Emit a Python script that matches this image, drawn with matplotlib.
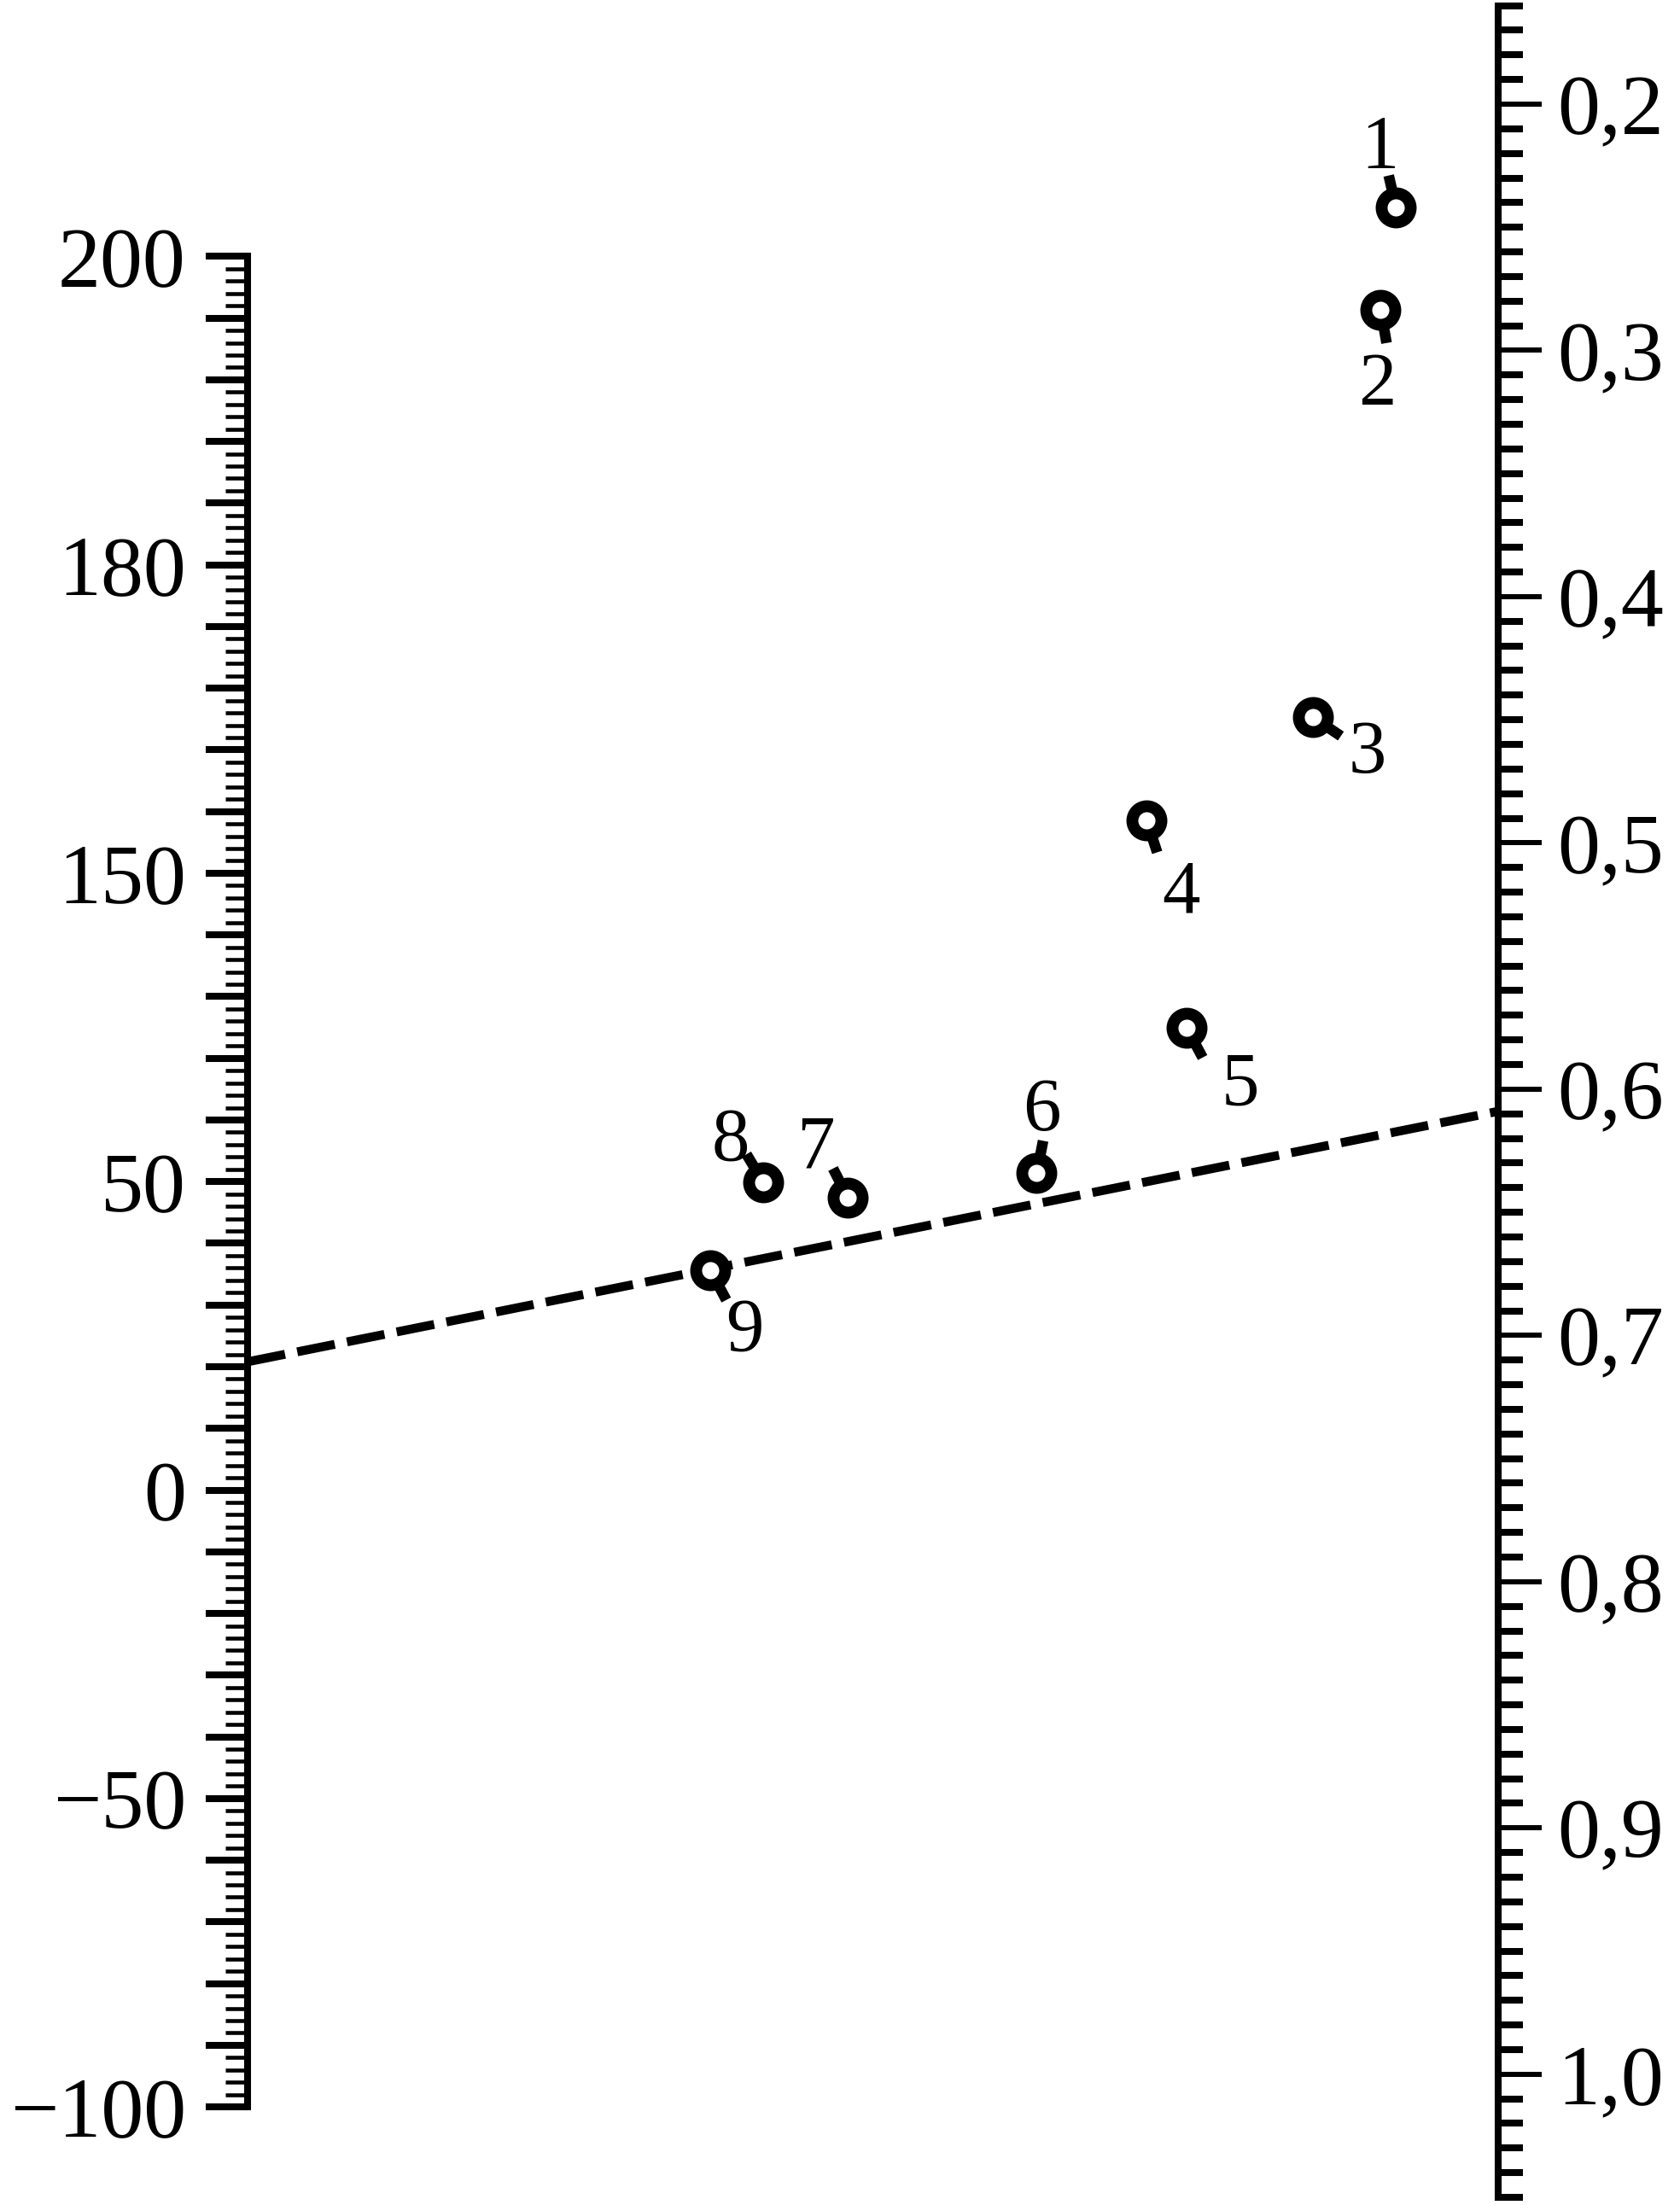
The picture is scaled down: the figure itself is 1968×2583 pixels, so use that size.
import numpy as np
import matplotlib.pyplot as plt
from matplotlib.path import Path
from matplotlib.ticker import FixedLocator, MultipleLocator, FuncFormatter

plt.rcParams['font.family'] = ['Liberation Serif', 'DejaVu Serif']

# left scale: labelled values sit at equal steps along the axis
left_values = [-100, -50, 0, 50, 150, 180, 200]

# numbered points (x is a free horizontal position, y is on the right scale)
point_ids = ['1', '2', '3', '4', '5', '6', '7', '8', '9']
point_x = [0.918, 0.906, 0.852, 0.719, 0.751, 0.631, 0.480, 0.412, 0.370]
point_y = [0.242, 0.2835, 0.449, 0.491, 0.575, 0.634, 0.644, 0.638, 0.6735]

# dashed key line: value on the left scale -> value on the right scale
line_left = 20.8
line_right = 0.609

# label placement (offset points) and tail direction (deg) for every point
label_dx = [-13, -3, 46, 29, 45, 4, -27, -27, 29]
label_dy = [56, -58, -24, -55, -42, 58, 48, 42, -45]
tail_angle = [103, -80, -34, -72, -62, 79, 117, 121, -62]
tail_len = 28  # points, from the centre of the ring


def left_label(t, pos):
    k = int(round(t))
    if abs(t - k) < 1e-6 and 0 <= k < len(left_values):
        return str(left_values[k]).replace('-', '\u2212')
    return ''


fig = plt.figure(figsize=(19.68, 25.83), dpi=100)
ax = fig.add_axes([290 / 1968, 9 / 2583, 1465 / 1968, 2567.4 / 2583])
ax.set_ylim(-0.293, 6.813)
ax.set_xlim(0, 1)
for s in ['top', 'right', 'bottom']:
    ax.spines[s].set_visible(False)
ax.spines['left'].set_linewidth(5.8)
ax.spines['left'].set_bounds(0, len(left_values) - 1)
ax.set_xticks([])
ax.yaxis.set_major_locator(FixedLocator(np.arange(0, 6.001, 0.2)))
ax.yaxis.set_minor_locator(FixedLocator(np.arange(0, 6.001, 0.04)))
ax.yaxis.set_major_formatter(FuncFormatter(left_label))
ax.tick_params(axis='y', which='major', direction='out', length=35, width=5.8,
               pad=17, labelsize=72)
ax.tick_params(axis='y', which='minor', direction='out', length=18.5, width=3.3)

axR = ax.twinx()
axR.set_ylim(1.05, 0.16)
for s in ['top', 'left', 'bottom']:
    axR.spines[s].set_visible(False)
axR.spines['right'].set_linewidth(5.8)
axR.yaxis.set_major_locator(MultipleLocator(0.1))
axR.yaxis.set_minor_locator(MultipleLocator(0.01))
axR.yaxis.set_major_formatter(FuncFormatter(lambda v, pos: f'{v:.1f}'.replace('.', ',')))
axR.tick_params(axis='y', which='major', direction='out', length=36.7, width=4.3,
                pad=13, labelsize=72)
axR.tick_params(axis='y', which='minor', direction='out', length=21, width=5.8)

# dashed line from the left scale to the right scale
t_left = np.interp(line_left, left_values, np.arange(len(left_values)))
disp = ax.transData.transform((0, t_left))
p_left = axR.transData.inverted().transform(disp)[1]
axR.plot([0, 1], [p_left, line_right], color='k', lw=7.5, dashes=(4.3, 1.4),
         clip_on=False, zorder=2)

# points with short tails and number labels
for i in range(len(point_ids)):
    a = np.deg2rad(tail_angle[i])
    c, s = np.cos(a), np.sin(a)
    tail = Path([[0, 0], [c, s]])
    # path markers are rescaled by their largest coordinate
    ms = 2 * tail_len * max(abs(c), abs(s))
    axR.plot(point_x[i], point_y[i], marker=tail, ms=ms, mew=9, color='k',
             linestyle='none', zorder=3)
    axR.annotate(point_ids[i], (point_x[i], point_y[i]),
                 xytext=(label_dx[i], label_dy[i]), textcoords='offset points',
                 ha='center', va='center_baseline', fontsize=64)

axR.plot(point_x, point_y, 'o', ms=24.5, mfc='white', mec='k', mew=10,
         linestyle='none', zorder=4)
ax.set_xlim(0, 1)

fig.savefig('out.png', dpi=100)
